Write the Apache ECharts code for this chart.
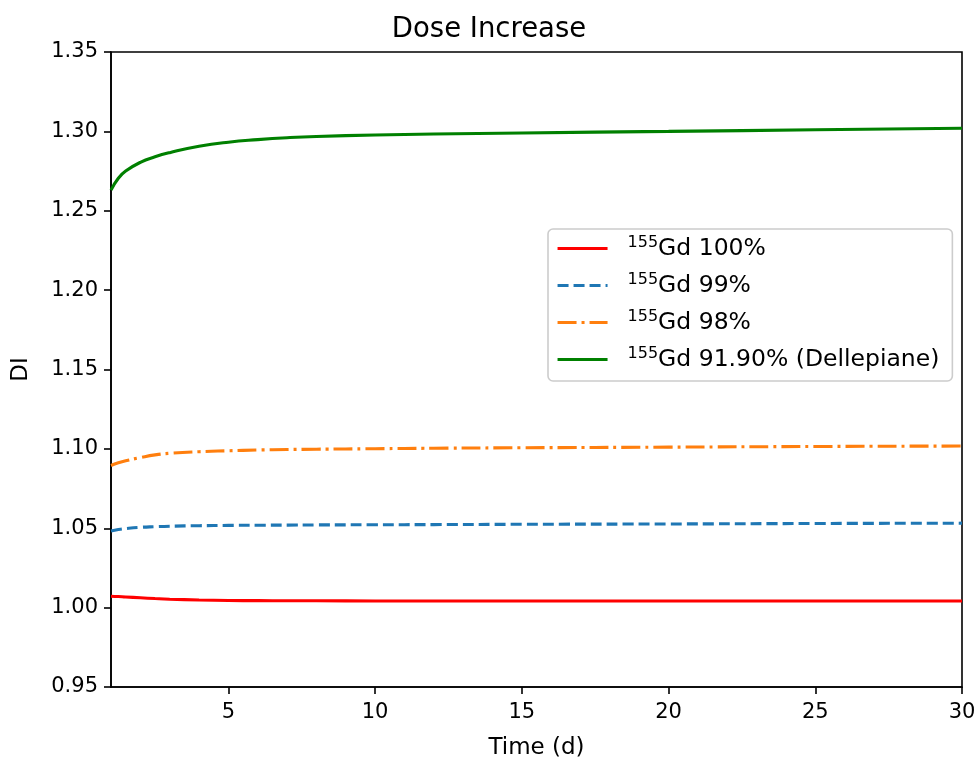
<!DOCTYPE html>
<html>
<head>
<meta charset="utf-8">
<script src="https://cdn.jsdelivr.net/npm/echarts@6/dist/echarts.min.js"></script>
<style>
  html, body { margin: 0; padding: 0; background: #fff; }
  #chart { width: 978px; height: 757px; }
</style>
</head>
<body>
<div id="chart"></div>
<script>
// Time points (days)
const days = [1, 1.25, 1.5, 2, 2.5, 3, 4, 5, 6, 7, 8, 10, 12, 15, 20, 25, 30];

// Dose increase for each enrichment
const gd100 = [1.0072, 1.0070, 1.0067, 1.0062, 1.0057, 1.0053, 1.0048, 1.0045, 1.0044, 1.0043, 1.0043, 1.0042, 1.0042, 1.0042, 1.0042, 1.0042, 1.0042];
const gd99  = [1.0483, 1.0492, 1.0498, 1.0506, 1.0510, 1.0513, 1.0516, 1.0518, 1.0519, 1.0520, 1.0521, 1.0522, 1.0523, 1.0525, 1.0527, 1.0530, 1.0532];
const gd98  = [1.0895, 1.0912, 1.0925, 1.0945, 1.0962, 1.0972, 1.0982, 1.0988, 1.0993, 1.0996, 1.0998, 1.1001, 1.1004, 1.1007, 1.1011, 1.1015, 1.1018];
const gdDel = [1.2630, 1.2705, 1.2750, 1.2805, 1.2840, 1.2866, 1.2906, 1.2932, 1.2948, 1.2960, 1.2968, 1.2977, 1.2983, 1.2990, 1.3000, 1.3010, 1.3020];

const seriesNames = ['Gd 100%', 'Gd 99%', 'Gd 98%', 'Gd 91.90% (Dellepiane)'];
const xTicks = [5, 10, 15, 20, 25, 30];

const FONT = 'DejaVu Sans';

function pairs(ys) { return days.map((d, i) => [d, ys[i]]); }

function makeSeries(name, ys, color, type) {
  return {
    name: name,
    type: 'line',
    data: pairs(ys),
    showSymbol: false,
    symbol: 'none',
    smooth: 0.5,
    lineStyle: { color: color, width: 3.1, type: type, cap: 'butt' },
    itemStyle: { color: color },
    emphasis: { disabled: true },
    z: 3
  };
}

const chart = echarts.init(document.getElementById('chart'), null, { renderer: 'canvas' });

chart.setOption({
  backgroundColor: '#fff',
  animation: false,
  textStyle: { fontFamily: FONT },
  title: {
    text: 'Dose Increase',
    left: 'center',
    top: 11,
    textStyle: { fontFamily: FONT, fontSize: 27.5, fontWeight: 'normal', color: '#000' }
  },
  grid: {
    left: 111, right: 16, top: 52, bottom: 70,
    outerBoundsMode: 'none',
    containLabel: false,
    show: true, borderColor: '#000', borderWidth: 1.6, backgroundColor: 'transparent'
  },
  legend: {
    orient: 'vertical',
    left: 548,
    top: 229,
    padding: [6, 13, 9, 8],
    itemWidth: 50,
    itemHeight: 14,
    itemGap: 11,
    backgroundColor: '#fff',
    borderColor: '#cccccc',
    borderWidth: 1.6,
    borderRadius: 5,
    itemStyle: { opacity: 0 },
    lineStyle: { width: 3.1 },
    data: seriesNames,
    formatter: name => '{sup|155}{t|' + name + '}',
    textStyle: {
      fontFamily: FONT,
      color: '#000',
      rich: {
        sup: { fontFamily: FONT, fontSize: 16, color: '#000', verticalAlign: 'top', lineHeight: 27, padding: [0, 0, 10, 15] },
        t: { fontFamily: FONT, fontSize: 23.5, color: '#000', lineHeight: 27 }
      }
    }
  },
  xAxis: {
    type: 'value',
    min: 1,
    max: 30,
    name: 'Time (d)',
    nameLocation: 'middle',
    nameGap: 50,
    nameTextStyle: { fontFamily: FONT, fontSize: 23, color: '#000' },
    axisLine: { show: true, lineStyle: { color: '#000', width: 1.6 } },
    axisTick: { show: true, inside: false, length: 7, lineStyle: { color: '#000', width: 1.6 }, customValues: xTicks },
    axisLabel: { fontFamily: FONT, fontSize: 21, color: '#000', margin: 15, customValues: xTicks },
    splitLine: { show: false }
  },
  yAxis: {
    type: 'value',
    min: 0.95,
    max: 1.35,
    interval: 0.05,
    name: 'DI',
    nameLocation: 'middle',
    nameGap: 78,
    nameRotate: 90,
    nameTextStyle: { fontFamily: FONT, fontSize: 23, color: '#000' },
    axisLine: { show: true, lineStyle: { color: '#000', width: 1.6 } },
    axisTick: { show: true, inside: false, length: 7, lineStyle: { color: '#000', width: 1.6 } },
    axisLabel: { fontFamily: FONT, fontSize: 21, color: '#000', margin: 13, formatter: v => v.toFixed(2) },
    splitLine: { show: false }
  },
  series: [
    makeSeries(seriesNames[0], gd100, '#ff0000', 'solid'),
    makeSeries(seriesNames[1], gd99, '#1f77b4', [11, 5]),
    makeSeries(seriesNames[2], gd98, '#ff7f0e', [19, 5, 3, 5]),
    makeSeries(seriesNames[3], gdDel, '#008000', 'solid')
  ]
});
</script>
</body>
</html>
